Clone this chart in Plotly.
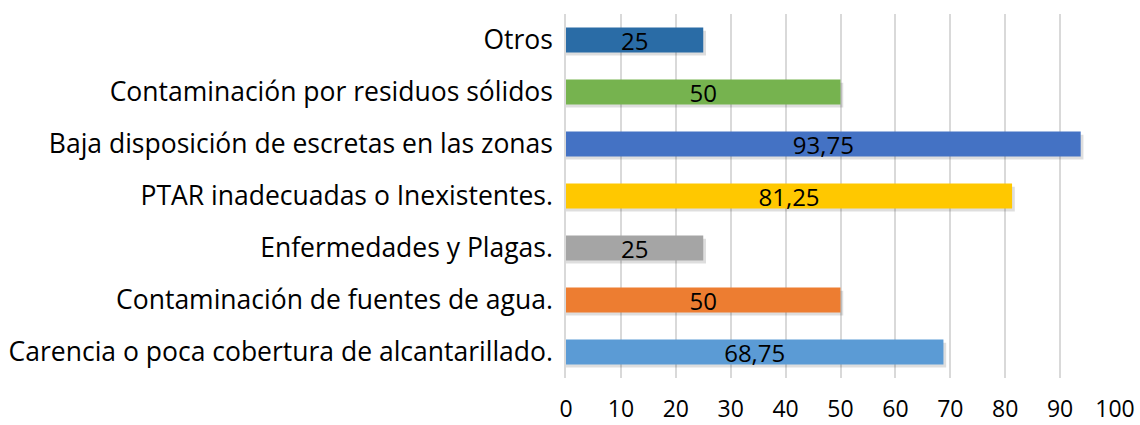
import plotly.graph_objects as go

categories = [
    "Carencia o poca cobertura de alcantarillado.",
    "Contaminación de fuentes de agua.",
    "Enfermedades y Plagas.",
    "PTAR inadecuadas o Inexistentes.",
    "Baja disposición de escretas en las zonas",
    "Contaminación por residuos sólidos",
    "Otros",
]
values = [68.75, 50, 25, 81.25, 93.75, 50, 25]
labels = ["68,75", "50", "25", "81,25", "93,75", "50", "25"]
colors = ["#5B9BD5", "#ED7D31", "#A5A5A5", "#FFC800", "#4472C4", "#76B34F", "#2A6CA6"]
tick_vals = [0, 10, 20, 30, 40, 50, 60, 70, 80, 90, 100]

FONT = "Open Sans"
BAR_W = 0.48

fig = go.Figure()
# soft drop shadow
fig.add_trace(go.Bar(
    x=[v + 0.5 for v in values], y=categories, orientation="h",
    marker=dict(color="rgba(0,0,0,0.13)", line=dict(width=0)),
    width=BAR_W, offset=-BAR_W / 2 - 0.06,
    hoverinfo="skip",
))
fig.add_trace(go.Bar(
    x=values, y=categories, orientation="h",
    marker=dict(color=colors, line=dict(width=0)),
    width=BAR_W, offset=-BAR_W / 2,
    text=labels, textposition="inside", insidetextanchor="middle",
    textangle=0, constraintext="none",
    textfont=dict(family=FONT, size=24, color="black"),
    hoverinfo="skip",
))

fig.update_layout(
    width=1140, height=425,
    margin=dict(l=566, r=25, t=14, b=47),
    paper_bgcolor="white", plot_bgcolor="white",
    showlegend=False, barmode="overlay",
    uniformtext=dict(mode="show", minsize=10),
    xaxis=dict(
        range=[0, 100], tickvals=tick_vals, automargin=False,
        showgrid=True, gridcolor="#D9D9D9", gridwidth=1.5,
        zeroline=False, showline=False,
        tickfont=dict(family=FONT, size=23, color="black"),
        ticks="", ticklabelstandoff=15,
    ),
    yaxis=dict(
        automargin=False,
        showgrid=False, zeroline=False,
        showline=True, linecolor="#D9D9D9", linewidth=1.5,
        tickfont=dict(family=FONT, size=26.5, color="black"),
        ticks="", ticklabelstandoff=6,
    ),
)

fig.write_html(
    "out.html",
    config={"displayModeBar": False},
    post_script="document.body.style.margin='0';document.body.style.overflow='hidden';",
)
